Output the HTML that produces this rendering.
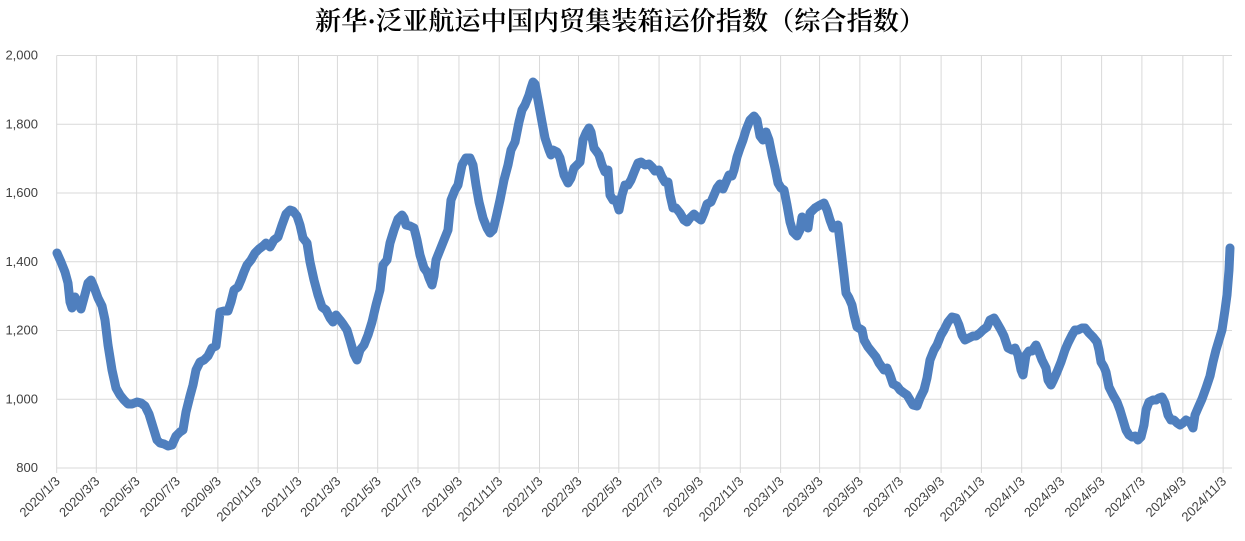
<!DOCTYPE html>
<html><head><meta charset="utf-8">
<style>
html,body{margin:0;padding:0;background:#fff;}
svg{display:block;}
</style></head>
<body>
<svg id="c" width="1245" height="541" xmlns="http://www.w3.org/2000/svg">
<rect width="1245" height="541" fill="#fff"/>
<text x="620" y="30" text-anchor="middle" font-family="'Liberation Serif','Noto Serif CJK SC',serif" font-size="26" font-weight="600" fill="#000" textLength="610" lengthAdjust="spacingAndGlyphs">新华·泛亚航运中国内贸集装箱运价指数（综合指数）</text>
<g id="grid" stroke="#d9d9d9" stroke-width="1"></g>
<g id="yl" font-family="'Liberation Sans',sans-serif" font-size="13" fill="#404040" text-anchor="end"></g>
<g id="xl" font-family="'Liberation Sans',sans-serif" font-size="13" fill="#404040" text-anchor="end"></g>
<polyline id="ln" fill="none" stroke="#4f7fbe" stroke-width="9" stroke-linejoin="round" stroke-linecap="round" points="57,253 61,262 65,272 68,283 70,302 72,308 75,297 78,303 81,309 84,298 88,283 91,280 94,287 98,298 102,306 105,320 108,345 112,370 116,388 120,395 124,400 128,404 132,404 137,402 141,403 145,406 149,414 153,427 157,440 160,443 164,444 168,446 172,445 176,436 180,432 183,430 186,412 190,396 193,385 196,370 200,362 204,360 208,356 212,348 216,346 218,330 220,312 224,311 228,311 231,302 234,290 238,287 241,280 244,272 247,265 251,260 255,253 259,249 263,246 266,243 270,247 274,240 278,237 282,225 286,214 290,210 293,211 297,216 300,225 303,238 307,243 310,262 314,280 318,295 322,307 326,310 330,318 333,322 336,315 340,320 343,324 347,330 350,340 354,354 357,360 360,350 364,345 368,335 372,322 376,305 380,290 383,265 387,260 390,243 394,230 398,219 402,215 404,218 406,225 410,226 414,228 417,240 420,255 424,268 427,272 429,278 432,285 434,276 436,260 440,250 444,240 448,230 451,200 455,190 458,185 462,165 466,158 470,158 473,165 476,185 479,202 483,218 487,228 490,233 493,230 496,218 500,200 504,180 508,165 511,150 515,142 519,122 522,110 525,105 529,95 531,88 533,82 535,84 538,100 542,122 545,138 549,150 551,155 553,150 557,152 560,158 564,175 568,183 571,178 574,168 577,165 580,162 583,140 586,133 589,128 591,132 594,148 597,152 599,155 602,165 605,172 608,170 610,195 613,200 616,200 619,210 622,195 625,185 628,185 631,180 635,170 638,163 641,162 645,165 649,164 652,167 655,171 659,170 662,177 665,182 668,182 670,195 673,208 676,208 680,213 684,220 687,222 690,218 694,214 697,217 701,220 704,213 707,204 711,202 714,195 717,188 720,184 723,189 726,182 729,175 732,176 734,170 737,157 740,148 743,140 746,130 750,120 754,116 757,120 760,136 763,140 766,132 769,140 772,155 775,168 778,183 781,188 784,190 787,205 790,222 793,232 797,236 800,230 802,217 805,222 808,228 810,213 815,208 820,205 824,203 827,210 830,220 833,228 836,226 838,225 841,250 844,275 846,293 849,298 852,305 854,315 857,327 862,330 864,340 868,347 872,352 876,357 879,363 884,370 887,368 890,375 893,384 897,386 900,390 904,393 907,395 910,400 913,405 917,406 920,398 924,390 927,378 930,360 934,350 937,345 941,335 944,330 948,322 952,317 956,318 959,325 962,335 965,340 969,338 973,336 976,336 980,333 983,330 987,327 990,320 994,318 997,323 1001,330 1004,336 1008,348 1012,350 1015,348 1018,355 1021,370 1023,375 1026,355 1029,351 1032,351 1036,345 1039,352 1042,360 1046,368 1048,380 1051,385 1053,381 1057,372 1061,362 1065,350 1068,343 1072,335 1075,330 1078,330 1082,328 1085,328 1089,333 1093,337 1097,342 1099,350 1101,362 1104,367 1106,372 1109,387 1113,395 1117,402 1120,410 1123,420 1126,430 1129,435 1132,437 1135,436 1138,440 1141,437 1144,425 1146,410 1149,402 1153,400 1156,400 1159,398 1162,397 1165,403 1168,415 1171,420 1174,420 1177,423 1180,425 1183,423 1186,420 1190,422 1193,428 1195,415 1198,408 1202,399 1206,388 1210,376 1213,362 1216,350 1219,340 1222,330 1225,310 1227,295 1229,270 1230,248"/>
</svg>
<script>
(function(){
var NS="http://www.w3.org/2000/svg";
var grid=document.getElementById('grid'),yl=document.getElementById('yl'),xl=document.getElementById('xl');
function el(p,t,a,txt){var e=document.createElementNS(NS,t);for(var k in a)e.setAttribute(k,a[k]);if(txt)e.textContent=txt;p.appendChild(e);return e;}
var L=56.7,R=1232,T=55.5,B=468;
var vals=[2000,1800,1600,1400,1200,1000,800];
for(var i=0;i<vals.length;i++){
 var y=T+(B-T)*i/6;
 el(grid,'line',{x1:L,x2:R,y1:y,y2:y});
 el(yl,'text',{x:38,y:y+4},vals[i].toLocaleString('en-US'));
}
var days=[0,60,121,182,244,305,366,425,486,547,609,670,731,790,851,912,974,1035,1096,1155,1216,1277,1339,1400,1461,1521,1582,1643,1705,1766];
var labs=[];
for(var yr=2020;yr<=2024;yr++)for(var m=1;m<=11;m+=2)labs.push(yr+'/'+m+'/3');
for(var j=0;j<days.length;j++){
 var x=L+days[j]*0.6605;
 el(grid,'line',{x1:x,x2:x,y1:T,y2:B+5});
 el(xl,'text',{x:x+4,y:482,transform:'rotate(-45 '+(x+4)+' 482)'},labs[j]);
}
})();
</script>
</body></html>
